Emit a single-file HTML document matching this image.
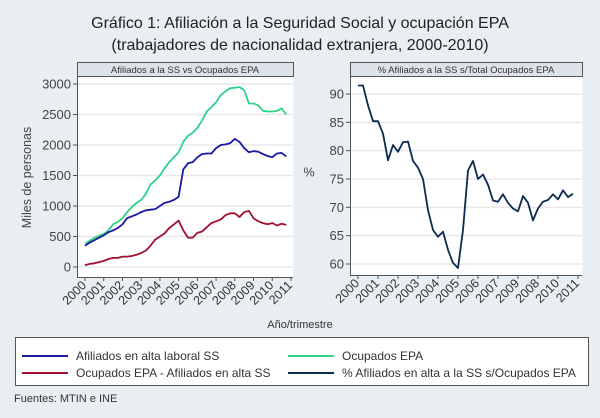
<!DOCTYPE html>
<html><head><meta charset="utf-8"><style>
body{margin:0;background:#e9eef2;}
svg{display:block;font-family:"Liberation Sans",sans-serif;}
</style></head><body>
<svg id="c" width="600" height="418" viewBox="0 0 600 418" xmlns="http://www.w3.org/2000/svg">
<rect width="600" height="418" fill="#e9eef2"/>
<text x="300" y="28" text-anchor="middle" font-size="16" fill="#222">Gráfico 1: Afiliación a la Seguridad Social y ocupación EPA</text>
<text x="300" y="50" text-anchor="middle" font-size="16" fill="#222">(trabajadores de nacionalidad extranjera, 2000-2010)</text>
<g id="left"></g>
<g id="right"></g>
<text x="300" y="328" text-anchor="middle" font-size="11" fill="#333">Año/trimestre</text>
<g>
<rect x="15.5" y="337.5" width="573" height="48" fill="#fff" stroke="#555"/>
<g><line x1="22" y1="356" x2="68" y2="356" stroke="#1a1aa0" stroke-width="2"/><text x="76" y="360" font-size="12" fill="#333">Afiliados en alta laboral SS</text></g>
<g><line x1="288" y1="356" x2="334" y2="356" stroke="#2ed28a" stroke-width="2"/><text x="342" y="360" font-size="12" fill="#333">Ocupados EPA</text></g>
<g><line x1="22" y1="373" x2="68" y2="373" stroke="#a01030" stroke-width="2"/><text x="76" y="377" font-size="12" fill="#333">Ocupados EPA - Afiliados en alta SS</text></g>
<g><line x1="288" y1="373" x2="334" y2="373" stroke="#0d2a50" stroke-width="2"/><text x="342" y="377" font-size="12" fill="#333">% Afiliados en alta a la SS s/Ocupados EPA</text></g>
</g>
<text x="14" y="402" font-size="11" fill="#333">Fuentes: MTIN e INE</text>
</svg>
<script>
const xTickLabelsL=["2000","2001","2002","2003","2004","2005","2006","2007","2008","2009","2010","2011"];
const xTickLabelsR=["2000","2001","2002","2003","2004","2005","2006","2007","2009","2008","2010","2011"];
const yTicksL=[0,500,1000,1500,2000,2500,3000];
const yTicksR=[60,65,70,75,80,85,90];
const ocupados=[380,430,480,510,540,600,700,740,800,900,980,1050,1100,1200,1350,1420,1500,1620,1720,1800,1880,2050,2150,2200,2280,2400,2550,2620,2700,2820,2880,2930,2940,2950,2900,2680,2680,2650,2560,2550,2550,2560,2600,2500];
const afiliados=[350,400,440,480,520,570,600,640,700,800,830,860,900,930,940,950,1000,1050,1070,1100,1150,1600,1700,1720,1800,1850,1860,1860,1950,2000,2010,2030,2100,2050,1950,1880,1900,1890,1850,1820,1800,1860,1870,1810];
const diferencia=[30,50,60,80,100,130,150,150,170,170,180,200,230,270,350,450,500,550,640,700,760,600,480,480,560,580,650,720,750,780,850,880,880,820,900,920,800,750,720,700,720,680,710,690];
const porcentaje=[91.5,91.5,88,85.2,85.2,83,78.3,81,79.8,81.5,81.6,78.2,77,75,69.5,66,64.8,65.7,62.5,60.2,59.3,66,76.5,78.2,75,75.8,74,71.2,71,72.3,70.8,69.8,69.3,72,70.8,67.7,69.8,71,71.3,72.3,71.4,73,71.8,72.4];
const NS="http://www.w3.org/2000/svg";
function mk(p,tag,a){const e=document.createElementNS(NS,tag);for(const k in a)e.setAttribute(k,a[k]);p.appendChild(e);return e;}
function panel(g,cfg){
  const {fx0,fx1,top,bottom,px0,px1,ymin,ymax,yv0,yv1,title,yTicks,xLabels,series,ytitle,ytx}=cfg;
  const X=t=>px0+(t-2000)/11*(px1-px0);
  const Y=v=>yv0+(v-ymin)/(ymax-ymin)*(yv1-yv0);
  const f=mk(g,'rect',{x:fx0+.5,y:top+14.5,width:fx1-fx0,height:bottom-top-14,fill:'#fff',stroke:'none'});
  
  
  const h=mk(g,'rect',{x:fx0+.5,y:top+.5,width:fx1-fx0,height:14,fill:'#dde3e8',stroke:'#555'});
  
  
  const ht=mk(g,'text',{x:(fx0+fx1)/2,y:top+11,'text-anchor':'middle','font-size':'9.5',fill:'#333'});ht.textContent=title;
  
  
  yTicks.forEach(v=>{const y=Y(v);
    const gl=mk(g,'line',{x1:fx0+1,x2:fx1,y1:y,y2:y,stroke:'#e8e8e8','stroke-width':1.5});
    
    
    mk(g,'line',{x1:fx0-4,x2:fx0,y1:y,y2:y,stroke:'#555'});
    const t=mk(g,'text',{x:fx0-6,y:y+4.5,'text-anchor':'end','font-size':'13',fill:'#444'});t.textContent=v;
    
    
  });
  mk(g,'line',{x1:fx0+.5,x2:fx0+.5,y1:top+14,y2:bottom,stroke:'#555'});
  mk(g,'line',{x1:fx0,x2:fx1,y1:bottom+.5,y2:bottom+.5,stroke:'#555'});
  xLabels.forEach((l,i)=>{const x=X(2000+i);
    mk(g,'line',{x1:x,x2:x,y1:bottom,y2:bottom+4,stroke:'#555'});
    const t=mk(g,'text',{x:x+2,y:bottom+9,'text-anchor':'end','font-size':'12.5',fill:'#333',transform:`rotate(-45 ${x+2} ${bottom+9})`});t.textContent=l;
    
    
  });
  const yt=mk(g,'text',{x:ytx,y:(top+bottom)/2+8,'text-anchor':'middle','font-size':'12.5',fill:'#444',transform:ytitle.length>2?`rotate(-90 ${ytx} ${(top+bottom)/2+8})`:''});yt.textContent=ytitle;
  
  
  series.forEach(s=>{
    const d=s.data.map((v,i)=>(i?'L':'M')+X(2000+i*0.25).toFixed(1)+','+Y(v).toFixed(1)).join('');
    const p=mk(g,'path',{d:d,fill:'none',stroke:s.color,'stroke-width':1.8,'stroke-linejoin':'round'});
    
    
  });
}
panel(document.getElementById('left'),{fx0:77,fx1:293,top:62,bottom:277,px0:85,px1:291,ymin:0,ymax:3000,yv0:267,yv1:84,
 title:'Afiliados a la SS vs Ocupados EPA',yTicks:yTicksL,xLabels:xTickLabelsL,ytitle:'Miles de personas',ytx:31,
 series:[{data:ocupados,color:'#2ed28a',name:'line-ocupados'},{data:afiliados,color:'#1a1aa0',name:'line-afiliados'},{data:diferencia,color:'#a01030',name:'line-diferencia'}]});
panel(document.getElementById('right'),{fx0:350,fx1:582,top:62,bottom:275,px0:358,px1:578,ymin:60,ymax:90,yv0:264,yv1:94,
 title:'% Afiliados a la SS s/Total Ocupados EPA',yTicks:yTicksR,xLabels:xTickLabelsR,ytitle:'%',ytx:309,
 series:[{data:porcentaje,color:'#0d2a50',name:'line-porcentaje'}]});
</script>
</body></html>
